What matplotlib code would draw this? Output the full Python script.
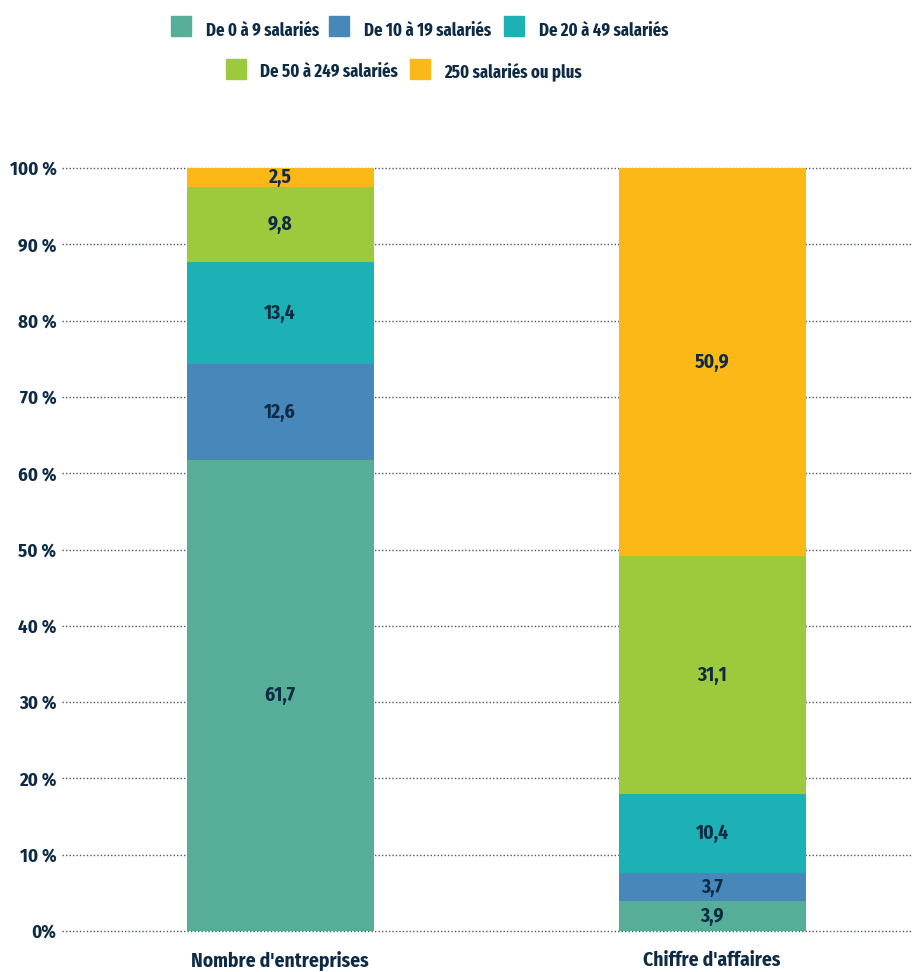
import matplotlib
matplotlib.use("Agg")
import matplotlib.pyplot as plt
from matplotlib.patches import Rectangle
from matplotlib import font_manager as fm
import numpy as np

categories = ["Nombre d'entreprises", "Chiffre d'affaires"]
series_labels = ["De 0 à 9 salariés", "De 10 à 19 salariés", "De 20 à 49 salariés",
                 "De 50 à 249 salariés", "250 salariés ou plus"]
values = {
    "De 0 à 9 salariés": [61.7, 3.9],
    "De 10 à 19 salariés": [12.6, 3.7],
    "De 20 à 49 salariés": [13.4, 10.4],
    "De 50 à 249 salariés": [9.8, 31.1],
    "250 salariés ou plus": [2.5, 50.9],
}
value_text = {
    "De 0 à 9 salariés": ["61,7", "3,9"],
    "De 10 à 19 salariés": ["12,6", "3,7"],
    "De 20 à 49 salariés": ["13,4", "10,4"],
    "De 50 à 249 salariés": ["9,8", "31,1"],
    "250 salariés ou plus": ["2,5", "50,9"],
}
yticks = [0, 10, 20, 30, 40, 50, 60, 70, 80, 90, 100]
ytick_labels = ["0%", "10 %", "20 %", "30 %", "40 %", "50 %", "60 %", "70 %", "80 %", "90 %", "100 %"]

colors = ["#56AD98", "#4787BA", "#1DB0B4", "#9CCA3C", "#FBB817"]
dark = "#0D2B45"

# pick condensed fonts if available
available = set(f.name for f in fm.fontManager.ttflist)
prefs = ["Fira Sans Condensed", "Fira Sans Extra Condensed", "Roboto Condensed",
         "Open Sans Condensed", "Liberation Sans Narrow", "PT Sans Narrow",
         "Archivo Narrow", "Asap Condensed", "Encode Sans Condensed", "DejaVu Sans"]
family = next(p for p in prefs if p in available)
leg_prefs = ["Fira Sans Extra Condensed"] + prefs
leg_family = next(p for p in leg_prefs if p in available)
plt.rcParams['font.family'] = [family, 'DejaVu Sans']

W, H = 914, 972
fig = plt.figure(figsize=(W / 100, H / 100), dpi=100)
renderer = fig.canvas.get_renderer()


def calib(s, target, fam, cap):
    t = fig.text(0, 0, s, fontsize=12, fontweight='bold', family=[fam, 'DejaVu Sans'])
    w = t.get_window_extent(renderer).width
    t.remove()
    return min(12 * target / w, cap)


fs_x = calib("Nombre d'entreprises", 177, family, 14)
fs_y = calib("100 %", 47, family, 15)
fs_v = calib("61,7", 34, family, 14)
fs_l = calib("De 0 à 9 salariés", 113, leg_family, 14)

ax = fig.add_axes([62 / W, 41 / H, 850 / W, 763 / H])

x = np.arange(len(categories))
bottom = np.zeros(len(categories))
for lab, col in zip(series_labels, colors):
    vals = np.array(values[lab])
    ax.bar(x, vals, bottom=bottom, width=0.433, color=col, zorder=3)
    for xi, v, b, t in zip(x, vals, bottom, value_text[lab]):
        ax.text(xi, b + v / 2, t, ha='center', va='center', fontsize=fs_v,
                fontweight='bold', color=dark, zorder=4)
    bottom += vals

for yv in yticks:
    ax.axhline(yv, color="#4a5a6a", lw=1.0, ls=(0, (1, 1.5)), zorder=1, clip_on=False)

ax.set_xlim(-0.505, 1.463)
ax.set_ylim(0, 100)
ax.set_yticks(yticks)
ax.set_yticklabels(ytick_labels, fontsize=fs_y, fontweight='bold', color=dark)
ax.set_xticks(x)
ax.set_xticklabels(categories, fontsize=fs_x, fontweight='bold', color=dark)
ax.tick_params(axis='both', length=0)
ax.tick_params(axis='y', pad=4)
ax.tick_params(axis='x', pad=14)
for s in ax.spines.values():
    s.set_visible(False)

# legend (manual layout)
leg_sq = [(171, 26), (329, 26), (504, 26), (226, 69), (410, 69)]
leg_txt = [(206, 31), (364, 31), (539, 31), (260, 72), (444, 72)]
sq = 20
for (px, py), (tx, ty), lab, col in zip(leg_sq, leg_txt, series_labels, colors):
    fig.patches.append(Rectangle((px / W, (H - py - sq / 2) / H), sq / W, sq / H,
                                 transform=fig.transFigure, color=col, figure=fig))
    fig.text(tx / W, (H - ty) / H, lab, ha='left', va='center', fontsize=fs_l,
             fontweight='bold', color=dark, family=[leg_family, 'DejaVu Sans'])

fig.savefig("out.png", dpi=100)
